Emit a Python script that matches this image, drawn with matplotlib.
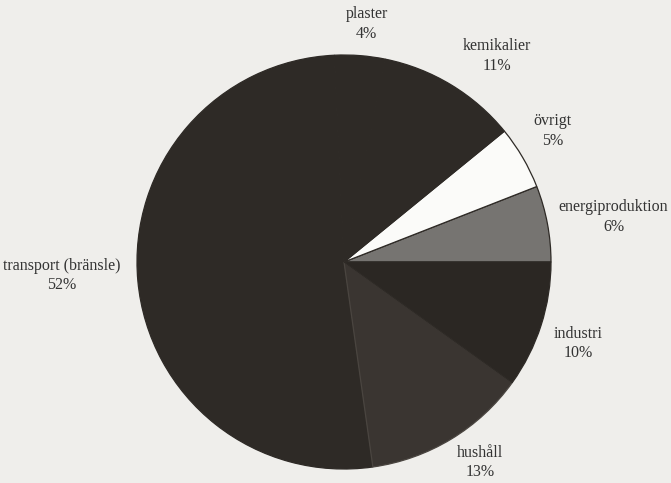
import numpy as np
import matplotlib.pyplot as plt

# oil use by sector, percent
sectors = ["energiproduktion", "övrigt", "kemikalier", "plaster",
           "transport (bränsle)", "hushåll", "industri"]
shares = [6, 5, 11, 4, 52, 13, 10]

colors = ["#767471", "#fbfbf9", "#2e2a26", "#2e2a26",
          "#2e2a26", "#3a3531", "#2b2723"]
# label placement: distance in pie radii, and angle nudge in degrees
label_dist = [1.32, 1.19, 1.24, 1.155, 1.364, 1.17, 1.20]
label_shift = [-1.2, 1.8, -5.4, -1.0, -2.55, 3.0, -1.4]

fig = plt.figure(figsize=(6.71, 4.83), dpi=100)
fig.patch.set_facecolor("#efeeeb")
ax = fig.add_axes([0, 0, 1, 1])
ax.set_facecolor("#efeeeb")

cx, cy, r = 344, 221, 207
wedges, _ = ax.pie(shares, colors=colors, startangle=0, counterclock=True,
                   center=(cx, cy), radius=r, frame=True,
                   wedgeprops=dict(edgecolor="#2e2a26", linewidth=0.9))
# faint seam between household and transport
wedges[5].set_edgecolor("#4a4540")

for w, name, val, d, s in zip(wedges, sectors, shares, label_dist, label_shift):
    mid = np.deg2rad((w.theta1 + w.theta2) / 2 + s)
    x = cx + d * r * np.cos(mid)
    y = cy + d * r * np.sin(mid)
    ax.text(x, y, f"{name}\n{val}%", ha="center", va="center",
            fontsize=11.5, family="Liberation Serif", color="#333333",
            linespacing=1.28)

ax.set_xlim(0, 671)
ax.set_ylim(0, 483)
ax.set_aspect("equal")
ax.axis("off")
fig.savefig("out.png", dpi=100, facecolor=fig.get_facecolor())
